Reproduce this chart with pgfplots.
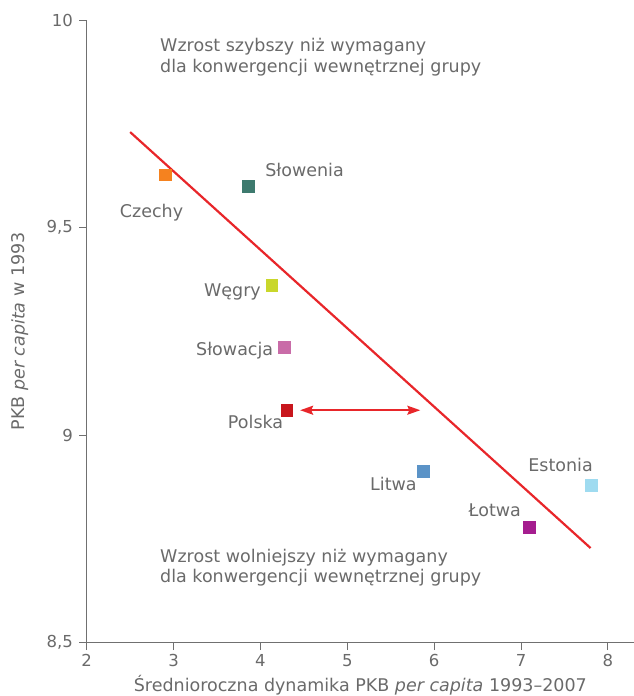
\documentclass[border=0pt]{standalone}
\usepackage{pgfplots}
\pgfplotsset{compat=1.18}
\usepackage{fontspec}
\setmainfont{DejaVu Sans}
\usetikzlibrary{calc,arrows.meta}
\definecolor{txt}{HTML}{6A6A6A}
\definecolor{axc}{HTML}{707070}
\definecolor{cz}{HTML}{F5821F}
\definecolor{sl}{HTML}{3D7A6E}
\definecolor{hu}{HTML}{C9D72B}
\definecolor{sk}{HTML}{C96CA8}
\definecolor{pl}{HTML}{C8161D}
\definecolor{lt}{HTML}{5B93C7}
\definecolor{lv}{HTML}{A51D8F}
\definecolor{ee}{HTML}{9FDBF0}
\definecolor{ln}{HTML}{E8262A}
\tikzset{lbl/.style={font=\fontsize{17.5}{20}\selectfont, text=txt}}
\pgfplotsset{sq/.style={only marks, mark=square*, mark size=5.8pt, color=#1, mark options={draw=#1, fill=#1, line width=0.3pt}}}
\begin{document}
\begin{tikzpicture}
\begin{axis}[
  name=ax, at={(0,0)}, anchor=south west,
  scale only axis, width=547.3pt, height=622.7pt,
  xmin=2, xmax=8.30, ymin=8.5, ymax=10,
  axis x line*=bottom, axis y line*=left,
  axis line style={-, draw=axc, line width=0.9pt},
  tick align=outside, major tick length=7.4pt,
  tick style={axc, line width=0.9pt},
  xtick={2,3,4,5,6,7,8},
  ytick={8.5,9,9.5,10},
  yticklabels={{8,5},9,{9,5},10},
  /pgf/number format/assume math mode=true,
  tick label style={font=\fontsize{16.5}{18}\selectfont, text=txt},
  xticklabel style={yshift=-1pt},
  yticklabel style={xshift=-3pt},
  label style={font=\fontsize{17.5}{20}\selectfont, text=txt},
  xlabel={Średnioroczna dynamika PKB \textit{per capita} 1993–2007},
  xlabel style={at={(axis description cs:0.5,0)}, anchor=base, yshift=-49pt},
  ylabel={PKB \textit{per capita} w 1993},
  ylabel style={at={(axis description cs:-0.1133,0.5)}, anchor=base},
  clip=false,
]
\addplot[ln, line width=2.2pt] coordinates {(2.50,9.730) (7.80,8.728)};
\addplot[ln, line width=1.8pt, {Stealth[length=13pt,width=9pt,inset=2pt]}-{Stealth[length=13pt,width=9pt,inset=2pt]}] coordinates {(4.457,9.060) (5.84,9.060)};
\addplot[sq=cz] coordinates {(2.90,9.627)};
\addplot[sq=sl] coordinates {(3.86,9.600)};
\addplot[sq=hu] coordinates {(4.13,9.361)};
\addplot[sq=sk] coordinates {(4.27,9.212)};
\addplot[sq=pl] coordinates {(4.30,9.060)};
\addplot[sq=lt] coordinates {(5.87,8.913)};
\addplot[sq=lv] coordinates {(7.09,8.778)};
\addplot[sq=ee] coordinates {(7.81,8.880)};
\node[lbl, anchor=base, inner sep=0pt] at (axis cs:2.746,9.524) {Czechy};
\node[lbl, anchor=base west, inner sep=0pt] at (axis cs:4.053,9.624) {Słowenia};
\node[lbl, anchor=base east, inner sep=0pt] at (axis cs:4.007,9.333) {Węgry};
\node[lbl, anchor=base east, inner sep=0pt] at (axis cs:4.149,9.191) {Słowacja};
\node[lbl, anchor=base, inner sep=0pt] at (axis cs:3.944,9.016) {Polska};
\node[lbl, anchor=base, inner sep=0pt] at (axis cs:5.531,8.867) {Litwa};
\node[lbl, anchor=base, inner sep=0pt] at (axis cs:6.697,8.805) {Łotwa};
\node[lbl, anchor=base, inner sep=0pt] at (axis cs:7.455,8.913) {Estonia};
\node[lbl, anchor=base west, inner sep=0pt] at (axis cs:2.844,9.923) {Wzrost szybszy niż wymagany};
\node[lbl, anchor=base west, inner sep=0pt] at (axis cs:2.844,9.874) {dla konwergencji wewnętrznej grupy};
\node[lbl, anchor=base west, inner sep=0pt] at (axis cs:2.844,8.694) {Wzrost wolniejszy niż wymagany};
\node[lbl, anchor=base west, inner sep=0pt] at (axis cs:2.844,8.645) {dla konwergencji wewnętrznej grupy};
\end{axis}
\pgfresetboundingbox
\path[use as bounding box] ($(ax.south west)+(-86.7pt,-53.3pt)$) rectangle ($(ax.north east)+(0pt,20pt)$);
\end{tikzpicture}
\end{document}
